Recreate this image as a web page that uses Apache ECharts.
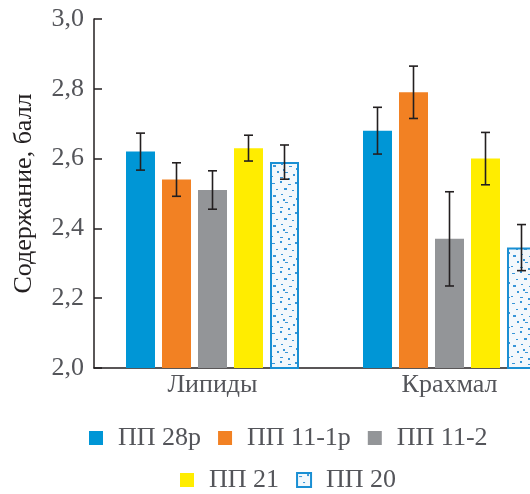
<!DOCTYPE html>
<html><head><meta charset="utf-8">
<script src="https://cdn.jsdelivr.net/npm/echarts@6/dist/echarts.min.js"></script>
<style>html,body{margin:0;padding:0;background:#fff}#c{width:530px;height:494px}</style>
</head><body><div id="c"></div>
<script>
var categories = ['Липиды', 'Крахмал'];
var seriesNames = ['ПП 28р', 'ПП 11-1р', 'ПП 11-2', 'ПП 21', 'ПП 20'];
var pp28r = [2.62, 2.68];
var pp11_1r = [2.54, 2.79];
var pp11_2 = [2.51, 2.37];
var pp21 = [2.63, 2.60];
var pp20 = [2.59, 2.345];
var err28r = [0.053, 0.067];
var err11_1r = [0.048, 0.075];
var err11_2 = [0.055, 0.135];
var err21 = [0.037, 0.075];
var err20 = [0.049, 0.066];
var yTicks = ['2,0', '2,2', '2,4', '2,6', '2,8', '3,0'];

var means = [pp28r, pp11_1r, pp11_2, pp21, pp20];
var errs = [err28r, err11_1r, err11_2, err21, err20];
var colors = ['#0096d6', '#f28123', '#939598', '#ffed00', null];

// speckle texture for ПП 20
var tile = document.createElement('canvas');
tile.width = 30; tile.height = 30;
var tc = tile.getContext('2d');
tc.fillStyle = '#f3f8fc'; tc.fillRect(0, 0, 30, 30);
var specks = [[2,3,3,1],[10,1,2,2],[18,4,3,1],[25,2,2,2],[6,9,2,1],[14,8,3,2],[22,10,2,1],[28,12,2,2],
  [3,15,3,2],[11,14,2,1],[19,16,3,1],[26,18,2,2],[7,21,2,2],[15,22,3,1],[23,24,2,2],[1,26,2,1],
  [10,27,3,1],[18,28,2,2],[27,27,3,1],[13,19,2,2]];
tc.fillStyle = '#3896d8';
specks.forEach(function (s) { tc.fillRect(s[0], s[1], s[2], s[3]); });

var FONT = 'Liberation Serif';
var TXT = '#231f20';
var BAR_W = 29, GAP_RATIO = 7 / 29;

var series = [];
means.forEach(function (m, i) {
  var style = colors[i] ? { color: colors[i] } :
    { color: { image: tile, repeat: 'repeat' }, borderColor: '#1a8fd3', borderWidth: 2 };
  series.push({
    type: 'bar', name: seriesNames[i], data: m, barWidth: BAR_W,
    barGap: (GAP_RATIO * 100) + '%', itemStyle: style, z: 2
  });
});
means.forEach(function (m, i) {
  var data = m.map(function (v, k) { return [k, v - errs[i][k], v + errs[i][k]]; });
  series.push({
    type: 'custom', data: data, z: 5, silent: true,
    renderItem: function (params, api) {
      var cat = api.value(0);
      var lo = api.coord([cat, api.value(1)]);
      var hi = api.coord([cat, api.value(2)]);
      var step = BAR_W * (1 + GAP_RATIO);
      var x = lo[0] + (i - 2) * step;
      var st = { stroke: TXT, lineWidth: 1.6 };
      var cw = 4.5;
      return { type: 'group', children: [
        { type: 'line', shape: { x1: x, y1: lo[1], x2: x, y2: hi[1] }, style: st },
        { type: 'line', shape: { x1: x - cw, y1: lo[1], x2: x + cw, y2: lo[1] }, style: st },
        { type: 'line', shape: { x1: x - cw, y1: hi[1], x2: x + cw, y2: hi[1] }, style: st }
      ] };
    }
  });
});

var legendText = { fontFamily: FONT, fontSize: 26, padding: [0, 0, 0, 10] };
var option = {
  animation: false,
  grid: { left: 94, top: 19, width: 474, height: 349, containLabel: false, outerBoundsMode: 'none' },
  xAxis: {
    type: 'category', data: categories,
    axisLine: { lineStyle: { color: TXT, width: 1.5 } },
    axisTick: { show: false },
    axisLabel: { fontFamily: FONT, fontSize: 26, margin: 4 }
  },
  yAxis: {
    type: 'value', min: 2, max: 3, interval: 0.2,
    name: 'Содержание, балл', nameLocation: 'middle', nameGap: 57, nameRotate: 90,
    nameTextStyle: { fontFamily: FONT, fontSize: 26 },
    axisLine: { show: true, lineStyle: { color: TXT, width: 1.5 } },
    axisTick: { show: true, inside: true, length: 8, lineStyle: { color: TXT, width: 1.5 } },
    splitLine: { show: false },
    axisLabel: {
      fontFamily: FONT, fontSize: 26, margin: 10,
      formatter: function (v) { return yTicks[Math.round((v - 2) / 0.2)]; }
    }
  },
  legend: [
    { data: seriesNames.slice(0, 3), left: 89, top: 425, icon: 'rect', itemWidth: 14, itemHeight: 14,
      itemGap: 17, textStyle: legendText, padding: 0 },
    { data: seriesNames.slice(3), left: 180, top: 467, icon: 'rect', itemWidth: 14, itemHeight: 14,
      itemGap: 17, textStyle: legendText, padding: 0 }
  ],
  series: series
};
var chart = echarts.init(document.getElementById('c'));
chart.setOption(option);
</script></body></html>
